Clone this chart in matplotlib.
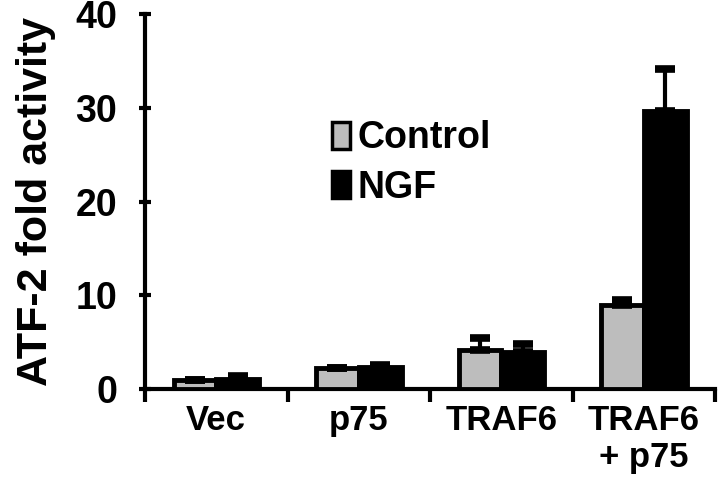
import numpy as np
import matplotlib.pyplot as plt

plt.rcParams['font.family'] = ['Liberation Sans', 'DejaVu Sans']
plt.rcParams['font.weight'] = 'bold'

# data
groups = ['Vec', 'p75', 'TRAF6', 'TRAF6\n+ p75']
control = [1.0, 2.2, 4.2, 9.0]
control_err = [0.0, 0.0, 1.2, 0.5]
ngf = [1.1, 2.4, 3.9, 29.7]
ngf_err = [0.3, 0.2, 0.9, 4.4]

fig = plt.figure(figsize=(7.2, 4.87), dpi=100)
ax = fig.add_axes([145 / 720, 1 - 389 / 487, 570 / 720, 375 / 487])

x = np.arange(len(groups))
w = 0.3
lw = 3.5
ekw = dict(elinewidth=3, capsize=7, capthick=5.5, ecolor='black')

ax.bar(x - w / 2, control, w, color='#bdbdbd', edgecolor='black', linewidth=lw,
       yerr=[np.zeros(4), control_err], error_kw=ekw, label='Control', zorder=3)
ax.bar(x + w / 2, ngf, w, color='black', edgecolor='black', linewidth=lw,
       yerr=[np.zeros(4), ngf_err], error_kw=ekw, label='NGF', zorder=3)

ax.set_xlim(-0.5, 3.5)
ax.set_ylim(0, 40)
ax.set_yticks([0, 10, 20, 30, 40])
ax.set_xticks(x)
ax.set_xticklabels(groups, fontsize=25, fontweight='bold', linespacing=1.15)
ax.tick_params(axis='x', length=0, pad=11)
ax.set_xticks(np.arange(-0.5, 4, 1), minor=True)
ax.tick_params(axis='x', which='minor', length=9, width=3, direction='out')
ax.tick_params(axis='y', length=8, width=3, direction='inout', labelsize=27, pad=16)
for lab in ax.get_yticklabels():
    lab.set_fontweight('bold')

for s in ['top', 'right']:
    ax.spines[s].set_visible(False)
ax.spines['left'].set_linewidth(3)
ax.spines['bottom'].set_linewidth(3)

ax.set_ylabel('ATF-2 fold activity', fontsize=31, fontweight='bold', labelpad=14)

leg = ax.legend(loc='upper left', bbox_to_anchor=(0.268, 0.806), frameon=False,
                prop={'size': 27, 'weight': 'bold'}, handlelength=0.5, handleheight=0.75,
                handletextpad=0.2, labelspacing=0.35)
for h in leg.legend_handles:
    h.set_linewidth(2.5)

fig.savefig('out.png', dpi=100)
